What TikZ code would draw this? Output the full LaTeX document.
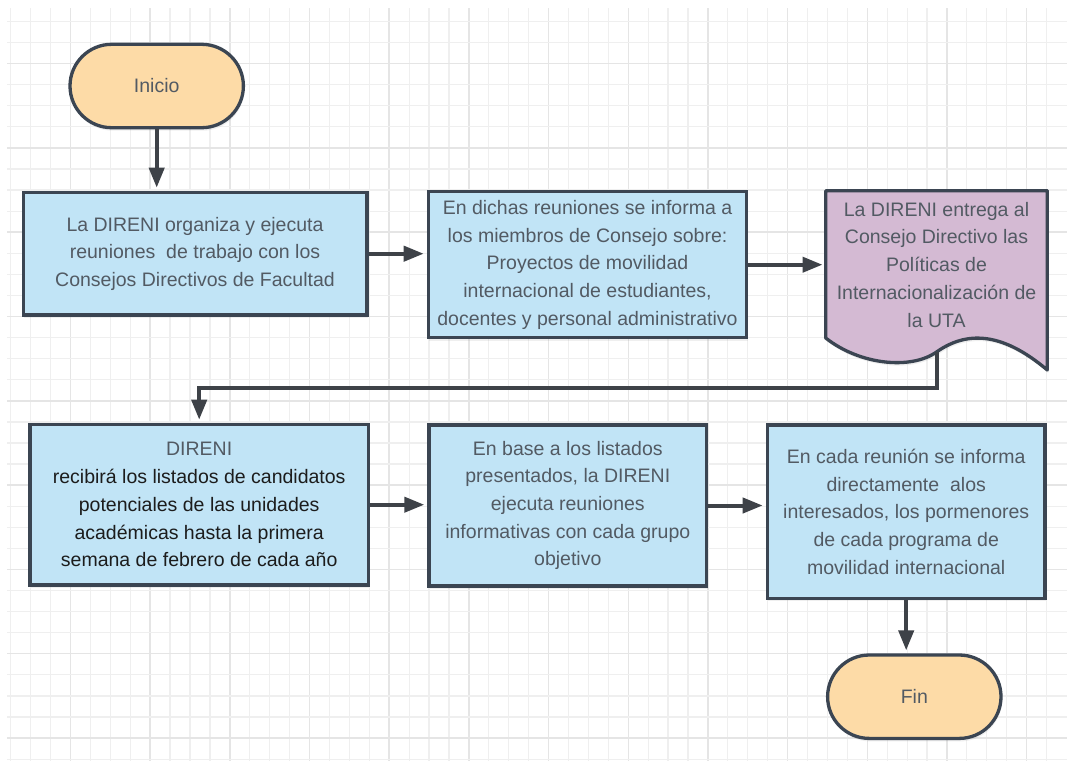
\documentclass[tikz,border=0pt]{standalone}
\usepackage{fontspec}
\setmainfont{Liberation Sans}
\usetikzlibrary{arrows.meta,shadows}

\definecolor{boxblue}{RGB}{193,228,246}
\definecolor{termorange}{RGB}{253,219,167}
\definecolor{docpurple}{RGB}{212,186,211}
\definecolor{edgegray}{RGB}{59,69,82}
\definecolor{flowgray}{RGB}{62,66,72}
\definecolor{textgray}{RGB}{82,90,99}
\definecolor{textdark}{RGB}{28,28,28}
\definecolor{gridminor}{RGB}{239,239,239}
\definecolor{gridmajor}{RGB}{229,229,229}

\begin{document}
\begin{tikzpicture}[x=1pt,y=-1pt,
  every node/.style={font=\fontsize{19.5}{27.7}\selectfont,text=textgray,align=center,inner sep=0pt},
  soft/.style={drop shadow={opacity=0.12,shadow xshift=1pt,shadow yshift=-3pt}},
  process/.style={rectangle,draw=edgegray,line width=3.3pt,fill=boxblue,soft},
  terminal/.style={rectangle,rounded corners=41.7pt,draw=edgegray,line width=3.3pt,fill=termorange,
    minimum width=173.4pt,minimum height=83.4pt,soft},
  flow/.style={draw=flowgray,line width=4pt,-{Triangle[length=20pt,width=15pt]},shorten >=3pt}]
% Page
\fill[white] (0,0) rectangle (1067,761);
\useasboundingbox (0,0) rectangle (1067,761);

% Grid
\foreach \k in {0,...,52} {
  \pgfmathsetmacro{\gx}{10.7+19.92*\k}
  \pgfmathtruncatemacro{\major}{mod(\k+1,4)==0}
  \ifnum\major=1 \draw[gridmajor,line width=1.4pt] (\gx,8) -- (\gx,761);
  \else \draw[gridminor,line width=1.2pt] (\gx,8) -- (\gx,761); \fi
}
\foreach \k in {1,...,36} {
  \pgfmathsetmacro{\gy}{0.3+21.08*\k}
  \pgfmathtruncatemacro{\major}{mod(\k+1,4)==0}
  \ifnum\major=1 \draw[gridmajor,line width=1.4pt] (7,\gy) -- (1067,\gy);
  \else \draw[gridminor,line width=1.2pt] (7,\gy) -- (1067,\gy); \fi
}

% Document shape
\filldraw[fill=docpurple,draw=edgegray,line width=3.3pt,line join=round,soft]
  (825.7,190.7) -- (1047.3,190.7) -- (1047.3,370)
  .. controls (1000,330) and (965,332) .. (936.5,352)
  .. controls (910.9,370) and (860,365) .. (825.7,338) -- cycle;

% Nodes
\node[terminal] (inicio) at (156.7,86) {Inicio};
\node[process,minimum width=343.7pt,minimum height=122.7pt] (reuniones) at (195,253.7)
  {La DIRENI organiza y ejecuta\\reuniones\ \ de trabajo con los\\Consejos Directivos de Facultad};
\node[process,minimum width=318.3pt,minimum height=146pt] (informa) at (587.5,264.7)
  {En dichas reuniones se informa a\\los miembros de Consejo sobre:\\Proyectos de movilidad\\internacional de estudiantes,\\docentes y personal administrativo};
\node[minimum width=221.6pt,minimum height=174.6pt] (entrega) at (936.5,264.7)
  {La DIRENI entrega al\\Consejo Directivo las\\Políticas de\\Internacionalización de\\la UTA};
\node[process,minimum width=338.4pt,minimum height=160.7pt] (recibe) at (199.2,504.7)
  {DIRENI\\\color{textdark}recibirá los listados de candidatos\\\color{textdark}potenciales de las unidades\\\color{textdark}académicas hasta la primera\\\color{textdark}semana de febrero de cada año};
\node[process,minimum width=277.7pt,minimum height=161pt] (ejecuta) at (567.8,505.5)
  {En base a los listados\\presentados, la DIRENI\\ejecuta reuniones\\informativas con cada grupo\\objetivo};
\node[process,minimum width=277.7pt,minimum height=173.4pt] (detalle) at (906.2,511.7)
  {En cada reunión se informa\\directamente\ \ alos\\interesados, los pormenores\\de cada programa de\\movilidad internacional};
\node[terminal] (fin) at (914.3,696.7) {Fin};

% Connectors
\draw[flow] (inicio.south) -- (inicio.south |- reuniones.north);
\draw[flow] (reuniones.east) -- (reuniones.east -| informa.west);
\draw[flow] (informa.east) -- (informa.east -| entrega.west);
\draw[flow] (entrega.south) -- ++(0,36) -| (recibe.north);
\draw[flow] (recibe.east) -- (recibe.east -| ejecuta.west);
\draw[flow] (ejecuta.east) -- (ejecuta.east -| detalle.west);
\draw[flow] (detalle.south) -- (detalle.south |- fin.north);
\end{tikzpicture}
\end{document}
